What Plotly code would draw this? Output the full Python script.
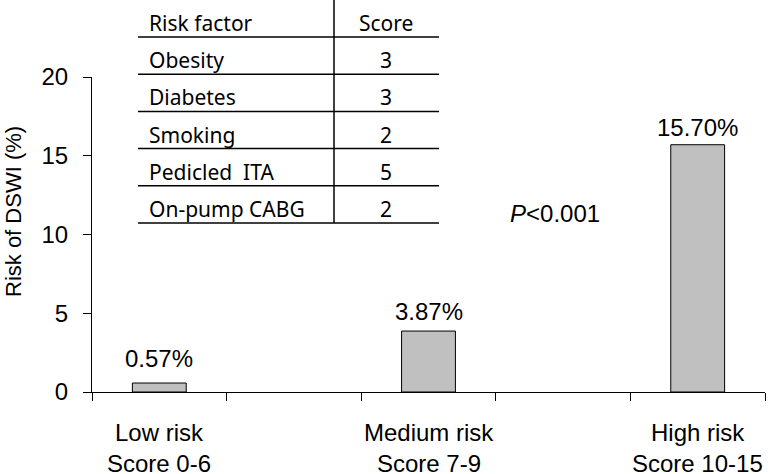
import plotly.graph_objects as go

# ---- data ----
risk_groups = ["Low risk", "Medium risk", "High risk"]
score_ranges = ["Score 0-6", "Score 7-9", "Score 10-15"]
risk_pct = [0.57, 3.87, 15.70]
value_labels = ["0.57%", "3.87%", "15.70%"]
y_ticks = [0, 5, 10, 15, 20]

table_header = ["Risk factor", "Score"]
risk_factors = ["Obesity", "Diabetes", "Smoking", "Pedicled  ITA", "On-pump CABG"]
factor_scores = [3, 3, 2, 5, 2]

p_text = "<i>P</i><0.001"

# ---- layout helpers (pixel geometry of the plot area) ----
W, H = 771, 474
L, R, T, B = 92, 765, 77, 392
def px(x):
    return (x - L) / (R - L)
def py(y):
    return (B - y) / (B - T)

xpos = [1, 3, 5]  # categories occupy slots 1,3,5 of five equal slots
ARIAL = "Liberation Sans, Arial, sans-serif"
TFONT = "Noto Sans, Open Sans, sans-serif"

fig = go.Figure()
fig.add_trace(go.Bar(
    x=xpos, y=risk_pct, width=0.4,
    marker=dict(color="#c0c0c0", line=dict(color="black", width=1)),
    hoverinfo="skip",
))

ann = []
label_shift = [25, 20, 17]
for xv, yv, t, s in zip(xpos, risk_pct, value_labels, label_shift):
    ann.append(dict(x=xv, y=yv, xref="x", yref="y", text=t, showarrow=False,
                    yanchor="middle", yshift=s, font=dict(family=ARIAL, size=24, color="black")))
for xv, g, s in zip(xpos, risk_groups, score_ranges):
    ann.append(dict(x=xv, y=0, xref="x", yref="y", text=g, showarrow=False,
                    yanchor="middle", yshift=-40, font=dict(family=ARIAL, size=24, color="black")))
    ann.append(dict(x=xv, y=0, xref="x", yref="y", text=s, showarrow=False,
                    yanchor="middle", yshift=-71, font=dict(family=ARIAL, size=24, color="black")))

# y title
ann.append(dict(x=px(13), y=py(212), xref="paper", yref="paper", text="Risk of DSWI (%)",
                textangle=-90, showarrow=False, xanchor="center", yanchor="middle",
                font=dict(family=ARIAL, size=22, color="black")))
# p value
ann.append(dict(x=px(555), y=py(213), xref="paper", yref="paper", text=p_text,
                showarrow=False, xanchor="center", yanchor="middle",
                font=dict(family=ARIAL, size=24, color="black")))

# ---- inset table ----
row_h = 37.2
line_y = [37 + i * row_h for i in range(len(risk_factors) + 1)]
shapes = []
for yl in line_y:
    shapes.append(dict(type="line", xref="paper", yref="paper",
                       x0=px(138), x1=px(439), y0=py(yl), y1=py(yl),
                       line=dict(color="black", width=1.5)))
shapes.append(dict(type="line", xref="paper", yref="paper",
                   x0=px(334), x1=px(334), y0=py(0), y1=py(line_y[-1]),
                   line=dict(color="black", width=1.5)))

rows = [(table_header[0], table_header[1])] + list(zip(risk_factors, [str(s) for s in factor_scores]))
for i, (f, s) in enumerate(rows):
    yb = line_y[i] - 14
    ann.append(dict(x=px(147), y=py(yb), xref="paper", yref="paper", text=f, showarrow=False,
                    xanchor="left", yanchor="middle", font=dict(family=TFONT, size=21, color="black")))
    ann.append(dict(x=px(386), y=py(yb), xref="paper", yref="paper", text=s, showarrow=False,
                    xanchor="center", yanchor="middle", font=dict(family=TFONT, size=21, color="black")))

fig.update_layout(
    width=W, height=H,
    margin=dict(l=L, r=W - R, t=T, b=H - B, pad=0),
    plot_bgcolor="white", paper_bgcolor="white",
    showlegend=False,
    annotations=ann, shapes=shapes,
    xaxis=dict(range=[0.5, 5.5], showgrid=False, zeroline=False,
               showline=True, linecolor="black", linewidth=1,
               tickvals=xpos, ticktext=["", "", ""], ticks="",
               minor=dict(tickvals=[0.5, 1.5, 2.5, 3.5, 4.5, 5.5], ticks="outside",
                          ticklen=8, tickcolor="black", tickwidth=1, showgrid=False)),
    yaxis=dict(range=[0, 20], showgrid=False, zeroline=False,
               showline=True, linecolor="black", linewidth=1,
               tickvals=y_ticks, ticks="outside", ticklen=8, tickcolor="black",
               ticklabelstandoff=10,
               tickfont=dict(family=ARIAL, size=24, color="black")),
)

fig.write_html("out.html", config={"displayModeBar": False},
               post_script="document.body.style.margin='0';document.body.style.overflow='hidden';")
